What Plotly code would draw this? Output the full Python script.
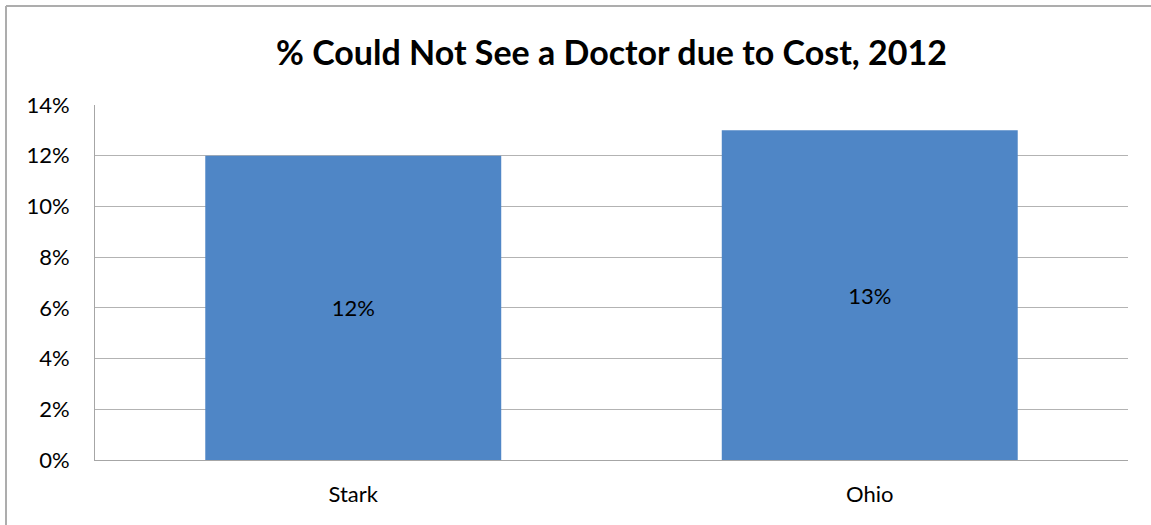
import plotly.graph_objects as go

categories = ["Stark", "Ohio"]
values = [0.12, 0.13]
labels = ["12%", "13%"]
tick_vals = [0, 0.02, 0.04, 0.06, 0.08, 0.10, 0.12, 0.14]
tick_text = ["0%", "2%", "4%", "6%", "8%", "10%", "12%", "14%"]

W, H = 1151, 525
L, R, T, B = 95, 23, 105, 65
pw, ph = W - L - R, H - T - B
FONT = "Lato, Open Sans, sans-serif"

fig = go.Figure(go.Bar(
    x=categories, y=values, text=labels,
    textposition="inside", insidetextanchor="middle",
    textfont=dict(family=FONT, size=22, color="black"),
    marker=dict(color="#4F86C6", line=dict(width=0)),
    width=0.573, cliponaxis=False,
))

fig.update_layout(
    width=W, height=H,
    margin=dict(l=L, r=R, t=T, b=B),
    paper_bgcolor="white", plot_bgcolor="white",
    showlegend=False,
    title=dict(text="<b>% Could Not See a Doctor due to Cost, 2012</b>",
               x=0.5, xref="paper", xanchor="center",
               y=1 - 53 / H, yref="container", yanchor="middle",
               font=dict(family=FONT, size=34, color="black")),
    font=dict(family=FONT, size=22, color="black"),
    uniformtext=dict(minsize=22, mode="show"),
)

fig.update_yaxes(range=[0, 0.14], tickvals=tick_vals, ticktext=tick_text,
                 showgrid=True, gridcolor="#B3B3B3", gridwidth=1,
                 showline=True, linecolor="#A6A6A6", linewidth=1,
                 ticks="", ticklabelstandoff=20, zeroline=False,
                 tickfont=dict(size=22))
fig.update_xaxes(showline=True, linecolor="#A6A6A6", linewidth=1,
                 ticks="", ticklabelstandoff=15, showgrid=False,
                 tickfont=dict(size=22))

# outer chart border (left and top edges visible; right/bottom cropped)
bx0 = (6 - L) / pw
top_y = (H - B - 6) / ph
fig.add_shape(type="line", xref="paper", yref="paper",
              x0=bx0, x1=(W + 20 - L) / pw, y0=top_y, y1=top_y,
              line=dict(color="#ADADAD", width=2))
fig.add_shape(type="line", xref="paper", yref="paper",
              x0=bx0, x1=bx0, y0=top_y, y1=-(B + 20) / ph,
              line=dict(color="#ADADAD", width=2))

fig.write_html("out.html", config={"displayModeBar": False},
               post_script="document.body.style.margin='0px';")
